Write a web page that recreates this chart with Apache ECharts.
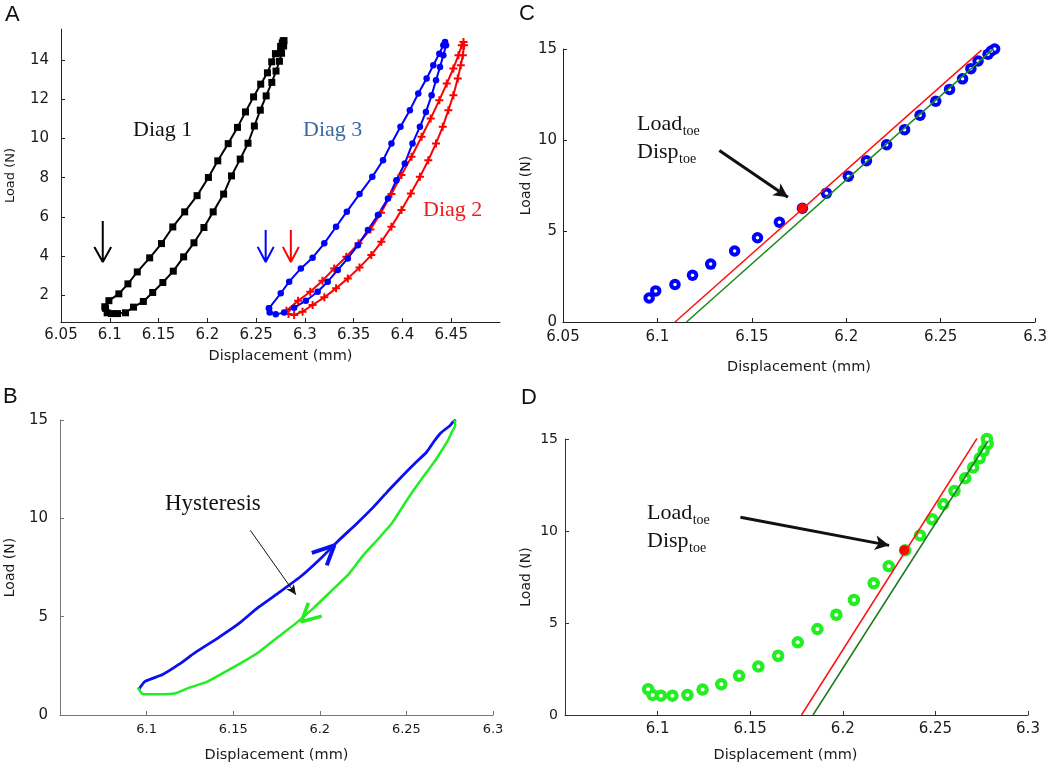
<!DOCTYPE html>
<html><head><meta charset="utf-8">
<script src="https://cdn.jsdelivr.net/npm/echarts@6/dist/echarts.min.js"></script>
<style>html,body{margin:0;padding:0;background:#fff}#c{width:1050px;height:765px}</style>
</head><body><div id="c"></div>
<script>
// ---------------- data ----------------
// Diag 1 loading branch (panel C points, also A and B)
const diag1LoadDisp  = [6.0956,6.0991,6.1093,6.1186,6.1282,6.1409,6.1530,6.1646,6.1768,6.1895,6.2011,6.2107,6.2214,6.2309,6.2391,6.2474,6.2547,6.2616,6.2660,6.2698,6.2751,6.2768,6.2786];
const diag1LoadForce = [1.32,1.71,2.06,2.57,3.18,3.90,4.63,5.48,6.25,7.08,8.01,8.86,9.74,10.57,11.36,12.13,12.78,13.36,13.92,14.34,14.71,14.89,15.0];
// Diag 1 unloading branch (panel D points, also A and B), from top to bottom
const diag1UnloadDisp  = [6.2778,6.2782,6.2761,6.2739,6.2704,6.2661,6.2603,6.2543,6.2482,6.2417,6.2337,6.2248,6.2167,6.2060,6.1965,6.1863,6.1757,6.1651,6.1544,6.1440,6.1344,6.1243,6.1161,6.1080,6.1018,6.0973,6.0949];
const diag1UnloadForce = [15.0,14.73,14.36,13.95,13.45,12.87,12.18,11.45,10.64,9.76,8.95,8.09,7.16,6.25,5.45,4.67,3.95,3.22,2.64,2.13,1.67,1.38,1.09,1.05,1.05,1.09,1.40];
// Diag 2 (red, panel A)
const diag2LoadDisp  = [6.2811,6.2930,6.3055,6.3180,6.3300,6.3425,6.3550,6.3672,6.3780,6.3887,6.3990,6.4093,6.4196,6.4289,6.4378,6.4454,6.4522,6.4574,6.4608,6.4626];
const diag2LoadForce = [1.20,1.71,2.17,2.73,3.36,3.96,4.64,5.35,6.21,7.16,8.13,9.07,10.09,11.02,11.96,12.81,13.58,14.26,14.77,14.94];
const diag2UnloadDisp  = [6.4632,6.4619,6.4598,6.4567,6.4522,6.4471,6.4413,6.4344,6.4265,6.4179,6.4086,6.3990,6.3887,6.3784,6.3681,6.3560,6.3440,6.3320,6.3199,6.3079,6.2976,6.2890,6.2832];
const diag2UnloadForce = [14.77,14.26,13.75,13.07,12.21,11.45,10.60,9.75,8.89,8.04,7.19,6.34,5.49,4.72,4.04,3.41,2.85,2.34,1.88,1.49,1.15,0.98,1.03];
// Diag 3 (blue, panel A)
const diag3LoadDisp  = [6.2632,6.2753,6.2839,6.2959,6.3079,6.3199,6.3320,6.3430,6.3560,6.3691,6.3801,6.3887,6.3980,6.4076,6.4162,6.4248,6.4316,6.4378,6.4419,6.4437];
const diag3LoadForce = [1.32,2.09,2.68,3.36,3.91,4.64,5.49,6.26,7.16,8.04,8.89,9.75,10.60,11.45,12.30,13.07,13.75,14.34,14.77,14.94];
const diag3UnloadDisp  = [6.4447,6.4419,6.4385,6.4344,6.4299,6.4241,6.4179,6.4103,6.4024,6.3938,6.3852,6.3749,6.3646,6.3543,6.3440,6.3337,6.3234,6.3131,6.3010,6.2890,6.2787,6.2701,6.2639,6.2632];
const diag3UnloadForce = [14.77,14.26,13.66,12.98,12.21,11.36,10.60,9.75,8.72,7.87,6.94,6.09,5.32,4.55,3.87,3.28,2.68,2.17,1.71,1.35,1.10,1.01,1.10,1.32];
// linear fits (panel C and D)
const cRedFitDisp = [6.1093,6.2716],  cRedFitLoad = [0,14.94];
const cGreenFitDisp = [6.1154,6.2781], cGreenFitLoad = [0,15.02];
const dRedFitDisp = [6.1777,6.2725],  dRedFitLoad = [0,15.04];
const dGreenFitDisp = [6.1839,6.2782], dGreenFitLoad = [0,14.85];
// toe points
const toeC = [6.1768, 6.25];
const toeD = [6.2332, 8.96];
// tick labels
const aYTicks = [2,4,6,8,10,12,14];
// annotation arrows (data coordinates)
const arrowA1 = {x:6.0928, top:5.78, tip:3.69};
const arrowA3 = {x:6.2598, top:5.32, tip:3.69};
const arrowA2 = {x:6.2856, top:5.32, tip:3.69};
const chevronBlue  = [[6.1954,8.24],[6.2084,8.63],[6.2040,7.61]];
const chevronGreen = [[6.1934,5.70],[6.1893,4.74],[6.2011,5.03]];
const arrowB = [[6.1599,9.39],[6.1862,6.11]];
const arrowC = [[6.1328,9.42],[6.1691,6.86]];
const arrowD = [[6.1447,10.75],[6.2250,9.22]];

// ---------------- helpers ----------------
const zip = (xs, ys) => xs.map((x, i) => [x, ys[i]]);
const SANS = '"DejaVu Sans", Verdana, sans-serif';
const SERIF = '"Liberation Serif", "Times New Roman", serif';
const GAP = ['-', '-'];
function vArrow(a, dx, dy) {
  return [[a.x, a.top], [a.x, a.tip], GAP, [a.x - dx, a.tip + dy], [a.x, a.tip], [a.x + dx, a.tip + dy]];
}
function xAx(grid, o) {
  return Object.assign({
    gridIndex: grid, type: 'value', min: 6.05, max: 6.3, interval: 0.05,
    splitLine: {show: false},
    axisLine: {show: true, onZero: false, lineStyle: {color: o.lineColor || '#222', width: 1}},
    axisTick: {show: true, inside: true, length: 4, lineStyle: {color: o.lineColor || '#222'}},
    axisLabel: {fontFamily: SANS, fontSize: o.fs, color: '#1a1a1a', margin: o.margin,
      showMinLabel: o.showMin !== false, showMaxLabel: o.showMax !== false},
    name: 'Displacement (mm)', nameLocation: 'middle', nameGap: o.nameGap,
    nameTextStyle: {fontFamily: SANS, fontSize: 14.5, color: '#1a1a1a', padding: o.namePad || 0}
  }, o.extra || {});
}
function yAx(grid, o) {
  const ax = {
    gridIndex: grid, type: 'value', min: o.min, max: o.max,
    splitLine: {show: false},
    axisLine: {show: true, onZero: false, lineStyle: {color: o.lineColor || '#222', width: 1}},
    axisTick: {show: true, inside: true, length: 4, lineStyle: {color: o.lineColor || '#222'}},
    axisLabel: {fontFamily: SANS, fontSize: o.fs, color: '#1a1a1a', margin: o.margin},
    name: 'Load (N)', nameLocation: 'middle', nameRotate: 90, nameGap: o.nameGap,
    nameTextStyle: {fontFamily: SANS, fontSize: o.nameFs || 14, color: '#1a1a1a'}
  };
  if (o.interval) ax.interval = o.interval;
  if (o.custom) { ax.axisLabel.customValues = o.custom; ax.axisTick.customValues = o.custom; }
  return ax;
}

const mctx = document.createElement('canvas').getContext('2d');
function tw(t, font) { mctx.font = font; return mctx.measureText(t).width; }
const BIG = '22px ' + SERIF, SMALL = '14px ' + SERIF;
function toeLabel(left, loadMid, dispMid) {
  const els = [];
  els.push({type: 'text', x: left, y: loadMid, style: {text: 'Load', font: BIG, fill: '#111', verticalAlign: 'middle'}});
  els.push({type: 'text', x: left + tw('Load', BIG) + 0.5, y: loadMid + 7, style: {text: 'toe', font: SMALL, fill: '#111', verticalAlign: 'middle'}});
  els.push({type: 'text', x: left, y: dispMid, style: {text: 'Disp', font: BIG, fill: '#111', verticalAlign: 'middle'}});
  els.push({type: 'text', x: left + tw('Disp', BIG) + 0.5, y: dispMid + 7, style: {text: 'toe', font: SMALL, fill: '#111', verticalAlign: 'middle'}});
  return els;
}
function txt(x, y, text, font, fill) {
  return {type: 'text', x: x, y: y, style: {text: text, font: font, fill: fill, verticalAlign: 'middle'}};
}
const LETTER = '22px "Liberation Sans", Arial, sans-serif';
const PLUS = 'path://M3,0H5V3H8V5H5V8H3V5H0V3H3Z';

function arrowMarkLine(seg, color, width, size) {
  return {
    silent: true, animation: false, symbol: ['none', 'arrow'], symbolSize: size,
    label: {show: false}, lineStyle: {color: color, width: width, type: 'solid'},
    emphasis: {disabled: true},
    data: [[{coord: seg[0]}, {coord: seg[1]}]]
  };
}
// ring marker = filled disc + small white centre drawn on top
function ring(gi, data, color, outer, inner) {
  return [
    {type: 'scatter', xAxisIndex: gi, yAxisIndex: gi, data: data, clip: false, silent: true,
     symbol: 'circle', symbolSize: outer, itemStyle: {color: color, opacity: 1}},
    {type: 'scatter', xAxisIndex: gi, yAxisIndex: gi, data: data, clip: false, silent: true,
     symbol: 'circle', symbolSize: inner, itemStyle: {color: '#fff', opacity: 1}}
  ];
}

const diag1Loop = zip(diag1LoadDisp, diag1LoadForce).concat(zip(diag1UnloadDisp, diag1UnloadForce));
const diag2Loop = zip(diag2LoadDisp, diag2LoadForce).concat(zip(diag2UnloadDisp, diag2UnloadForce));
const diag3Loop = zip(diag3LoadDisp, diag3LoadForce).concat(zip(diag3UnloadDisp, diag3UnloadForce));

const option = {
  animation: false,
  backgroundColor: '#fff',
  grid: [
    {left: 61, top: 29, width: 439, height: 293},
    {left: 60, top: 420, width: 433, height: 295},
    {left: 563, top: 49, width: 474, height: 273},
    {left: 565, top: 439, width: 463, height: 276}
  ],
  xAxis: [
    xAx(0, {fs: 15, margin: 6, nameGap: 27, showMax: false, extra: {max: 6.5}}),
    xAx(1, {fs: 13, margin: 8, nameGap: 33, showMin: false, lineColor: '#777'}),
    xAx(2, {fs: 15, margin: 8, nameGap: 38}),
    xAx(3, {fs: 15, margin: 7, nameGap: 33, showMin: false, lineColor: '#333', namePad: [0, 22, 0, 0]})
  ],
  yAxis: [
    yAx(0, {min: 0.62, max: 15.6, custom: aYTicks, fs: 15, margin: 12, nameGap: 44, nameFs: 13}),
    yAx(1, {min: 0, max: 15, interval: 5, fs: 15, margin: 12, nameGap: 43, lineColor: '#777'}),
    yAx(2, {min: 0, max: 15, interval: 5, fs: 15, margin: 6, nameGap: 30}),
    yAx(3, {min: 0, max: 15, interval: 5, fs: 14, margin: 7, nameGap: 32, lineColor: '#333'})
  ],
  series: [].concat(
    [
    // ---- panel A ----
    {type: 'line', xAxisIndex: 0, yAxisIndex: 0, data: diag1Loop, clip: false,
     lineStyle: {color: '#000', width: 2}, symbol: 'rect', symbolSize: 7,
     itemStyle: {color: '#000'}},
    {type: 'scatter', xAxisIndex: 0, yAxisIndex: 0, data: diag1Loop, clip: false, silent: true,
     symbol: 'rect', symbolSize: 2, itemStyle: {color: '#fff', opacity: 1}},
    {type: 'line', xAxisIndex: 0, yAxisIndex: 0, data: diag2Loop, clip: false,
     lineStyle: {color: '#ff0000', width: 2}, symbol: PLUS, symbolSize: 8,
     itemStyle: {color: '#ff0000'}},
    {type: 'line', xAxisIndex: 0, yAxisIndex: 0, data: diag3Loop, clip: false,
     lineStyle: {color: '#0000ff', width: 2}, symbol: 'circle', symbolSize: 6.5,
     itemStyle: {color: '#0000ff'}},
    {type: 'line', xAxisIndex: 0, yAxisIndex: 0, data: vArrow(arrowA1, 0.0086, 0.77), symbol: 'none',
     lineStyle: {color: '#000', width: 2}, connectNulls: false},
    {type: 'line', xAxisIndex: 0, yAxisIndex: 0, data: vArrow(arrowA3, 0.0082, 0.77), symbol: 'none',
     lineStyle: {color: '#0000ff', width: 2}, connectNulls: false},
    {type: 'line', xAxisIndex: 0, yAxisIndex: 0, data: vArrow(arrowA2, 0.0082, 0.77), symbol: 'none',
     lineStyle: {color: '#ff0000', width: 2}, connectNulls: false},
    // ---- panel B ----
    {type: 'line', xAxisIndex: 1, yAxisIndex: 1, data: zip(diag1LoadDisp, diag1LoadForce), symbol: 'none',
     smooth: 0.15, lineStyle: {color: '#0a10f0', width: 2.8}},
    {type: 'line', xAxisIndex: 1, yAxisIndex: 1, data: zip(diag1UnloadDisp, diag1UnloadForce), symbol: 'none',
     smooth: 0.15, lineStyle: {color: '#22ee22', width: 2.5}},
    {type: 'line', xAxisIndex: 1, yAxisIndex: 1, data: chevronBlue, symbol: 'none',
     lineStyle: {color: '#0a10f0', width: 4}},
    {type: 'line', xAxisIndex: 1, yAxisIndex: 1, data: chevronGreen, symbol: 'none',
     lineStyle: {color: '#22ee22', width: 3.5},
     markLine: arrowMarkLine(arrowB, '#111', 1, [7, 10])}
    ],
    // ---- panel C ----
    ring(2, zip(diag1LoadDisp, diag1LoadForce), '#0000ff', 11.5, 3.5),
    [
    {type: 'line', xAxisIndex: 2, yAxisIndex: 2, data: zip(cRedFitDisp, cRedFitLoad), symbol: 'none',
     lineStyle: {color: '#ff1010', width: 1.5}},
    {type: 'line', xAxisIndex: 2, yAxisIndex: 2, data: zip(cGreenFitDisp, cGreenFitLoad), symbol: 'none',
     lineStyle: {color: '#1a8a1a', width: 1.5}},
    {type: 'scatter', xAxisIndex: 2, yAxisIndex: 2, data: [toeC], symbol: 'circle', symbolSize: 10,
     itemStyle: {color: '#ff0000', opacity: 1},
     markLine: arrowMarkLine(arrowC, '#111', 3, [11, 14])}
    ],
    // ---- panel D ----
    ring(3, zip(diag1UnloadDisp, diag1UnloadForce), '#22ee22', 12.5, 4),
    [
    {type: 'line', xAxisIndex: 3, yAxisIndex: 3, data: zip(dRedFitDisp, dRedFitLoad), symbol: 'none',
     lineStyle: {color: '#ff1010', width: 1.5}},
    {type: 'line', xAxisIndex: 3, yAxisIndex: 3, data: zip(dGreenFitDisp, dGreenFitLoad), symbol: 'none',
     lineStyle: {color: '#1a7a1a', width: 1.5}},
    {type: 'scatter', xAxisIndex: 3, yAxisIndex: 3, data: [toeD], symbol: 'circle', symbolSize: 10,
     itemStyle: {color: '#ff0000', opacity: 1},
     markLine: arrowMarkLine(arrowD, '#111', 3, [11, 14])}
    ]
  ),
  graphic: [].concat(
    [txt(5, 15, 'A', LETTER, '#111'), txt(3, 397, 'B', LETTER, '#111'),
     txt(519, 14, 'C', LETTER, '#111'), txt(521, 398, 'D', LETTER, '#111'),
     txt(133, 130, 'Diag 1', BIG, '#111'),
     txt(303, 130, 'Diag 3', BIG, '#3b6aa0'),
     txt(423, 210, 'Diag 2', BIG, '#ee1c1c'),
     txt(165, 504, 'Hysteresis', '23px ' + SERIF, '#111')],
    toeLabel(637, 124.5, 152),
    toeLabel(647, 513, 541.5)
  )
};

const chart = echarts.init(document.getElementById('c'), null, {renderer: 'canvas'});
chart.setOption(option);
</script>
</body></html>
